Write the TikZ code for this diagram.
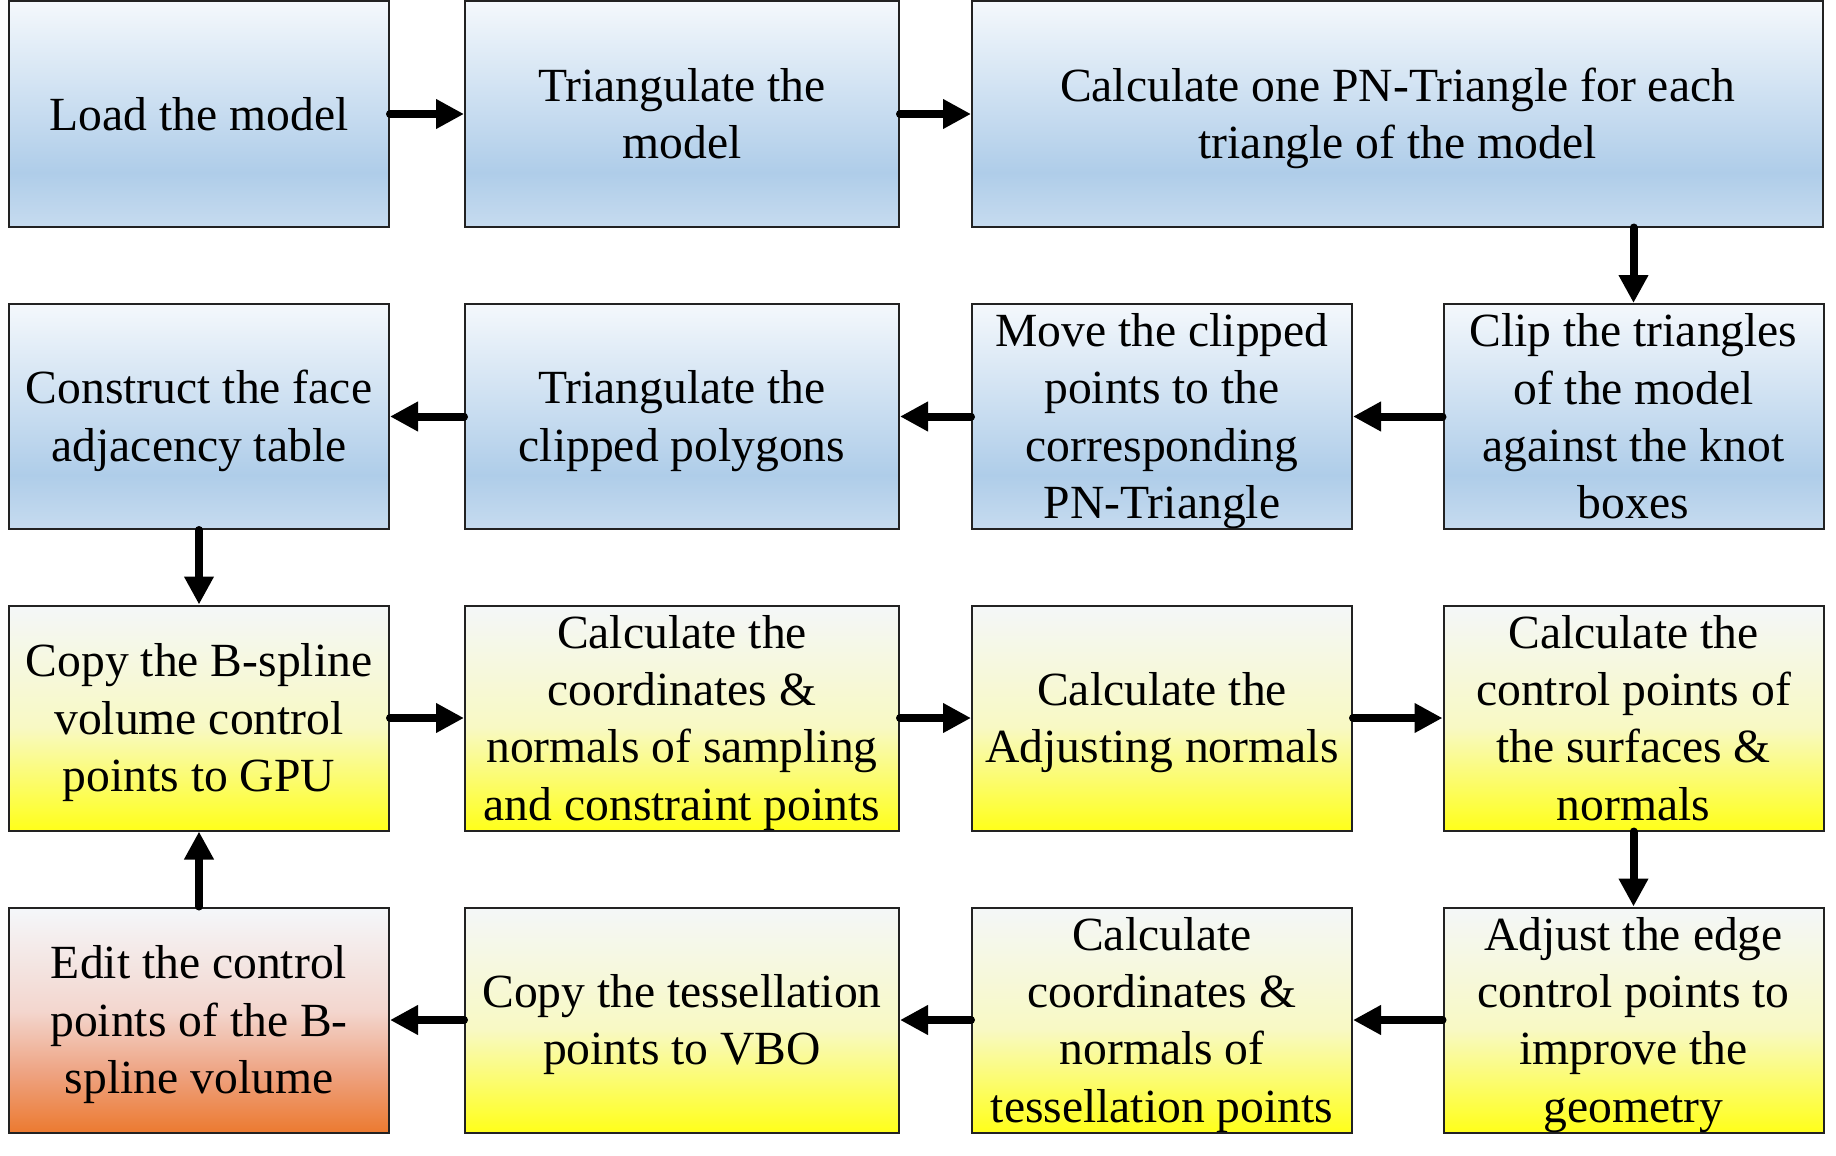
\documentclass[tikz,border=0pt]{standalone}
\usepackage{fontspec}
\setmainfont{Liberation Serif}
\usetikzlibrary{arrows.meta}

\definecolor{boxline}{HTML}{222222}
\definecolor{blueT}{HTML}{F4F8FC}
\definecolor{blueM}{HTML}{AFCDE9}
\definecolor{blueB}{HTML}{C6DBEF}
\definecolor{yelT}{HTML}{F4F7F8}
\definecolor{yelM}{HTML}{F8F9C4}
\definecolor{yelB}{HTML}{FFFF1A}
\definecolor{orT}{HTML}{F4F7FA}
\definecolor{orM}{HTML}{F3D6CE}
\definecolor{orL}{HTML}{EEA280}
\definecolor{orB}{HTML}{EC7A30}

% vertical shadings: the path spans 25bp (bottom) to 75bp (top)
\pgfdeclareverticalshading{blueshade}{100bp}{color(0bp)=(blueB); color(25bp)=(blueB); color(37bp)=(blueM); color(75bp)=(blueT); color(100bp)=(blueT)}
\pgfdeclareverticalshading{yellowshade}{100bp}{color(0bp)=(yelB); color(25bp)=(yelB); color(48bp)=(yelM); color(75bp)=(yelT); color(100bp)=(yelT)}
\pgfdeclareverticalshading{orangeshade}{100bp}{color(0bp)=(orB); color(25bp)=(orB); color(38bp)=(orL); color(52bp)=(orM); color(75bp)=(orT); color(100bp)=(orT)}

% invisible rule on the first and last line, so every text block is
% centred on its line boxes rather than on its glyphs
\newcommand{\ls}{\rule[-10pt]{0pt}{52.5pt}}

\tikzset{
  box/.style={draw=boxline, line width=2pt, inner sep=0pt, align=center,
    minimum height=225pt, font=\fontsize{47.6}{57.3}\selectfont},
  narrow/.style={minimum width=380pt},
  mid/.style={minimum width=434pt},
  wide/.style={minimum width=851pt},
  bluebox/.style={box, shading=blueshade},
  yellowbox/.style={box, shading=yellowshade},
  orangebox/.style={box, shading=orangeshade},
  flow/.style={line width=8pt, line cap=round, -{Triangle[length=28pt,width=28pt]}}
}

\begin{document}
\begin{tikzpicture}[x=1pt,y=1pt]
\useasboundingbox (0,0) rectangle (1836,-1156);

% row 1
\node[bluebox, narrow] (a1) at (199,-114) {\ls Load the model\ls};
\node[bluebox, mid] (a2) at (682,-114) {\ls Triangulate the\\model\ls};
\node[bluebox, wide] (a3) at (1397.5,-114) {\ls Calculate one PN-Triangle for each\\triangle of the model\ls};

% row 2
\node[bluebox, narrow] (b1) at (199,-416.5) {\ls Construct the face\\adjacency table\ls};
\node[bluebox, mid] (b2) at (682,-416.5) {\ls Triangulate the\\clipped polygons\ls};
\node[bluebox, narrow] (b3) at (1162,-416.5) {\ls Move the clipped\\points to the\\corresponding\\PN-Triangle\ls};
\node[bluebox, narrow] (b4) at (1633.5,-416.5) {\ls Clip the triangles\\of the model\\against the knot\\boxes\ls};

% row 3
\node[yellowbox, narrow] (c1) at (199,-718) {\ls Copy the B-spline\\volume control\\points to GPU\ls};
\node[yellowbox, mid] (c2) at (682,-718) {\ls Calculate the\\coordinates \&\\normals of sampling\\and constraint points\ls};
\node[yellowbox, narrow] (c3) at (1162,-718) {\ls Calculate the\\Adjusting normals\ls};
\node[yellowbox, narrow] (c4) at (1633.5,-718) {\ls Calculate the\\control points of\\the surfaces \&\\normals\ls};

% row 4
\node[orangebox, narrow] (d1) at (199,-1020) {\ls Edit the control\\points of the B-\\spline volume\ls};
\node[yellowbox, mid] (d2) at (682,-1020) {\ls Copy the tessellation\\points to VBO\ls};
\node[yellowbox, narrow] (d3) at (1162,-1020) {\ls Calculate\\coordinates \&\\normals of\\tessellation points\ls};
\node[yellowbox, narrow] (d4) at (1633.5,-1020) {\ls Adjust the edge\\control points to\\improve the\\geometry\ls};

% connectors
\draw[flow] (a1.east) -- (a2.west);
\draw[flow] (a2.east) -- (a3.west);
\draw[flow] (b4.north |- a3.south) -- (b4.north);
\draw[flow] (b4.west) -- (b3.east);
\draw[flow] (b3.west) -- (b2.east);
\draw[flow] (b2.west) -- (b1.east);
\draw[flow] (b1.south) -- (c1.north);
\draw[flow] (c1.east) -- (c2.west);
\draw[flow] (c2.east) -- (c3.west);
\draw[flow] (c3.east) -- (c4.west);
\draw[flow] (c4.south) -- (d4.north);
\draw[flow] (d4.west) -- (d3.east);
\draw[flow] (d3.west) -- (d2.east);
\draw[flow] (d2.west) -- (d1.east);
\draw[flow] (d1.north) -- (c1.south);
\end{tikzpicture}
\end{document}
